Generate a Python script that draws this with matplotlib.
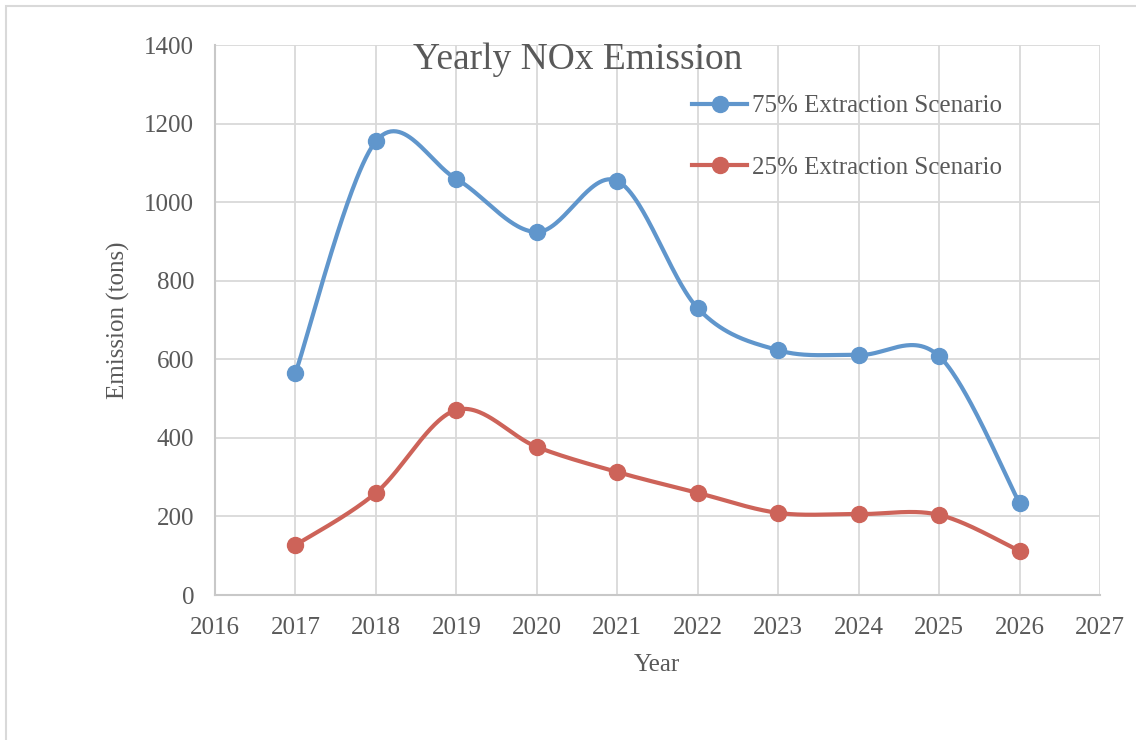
import numpy as np
import matplotlib
matplotlib.use("Agg")
import matplotlib.pyplot as plt
from matplotlib.lines import Line2D
from matplotlib.patches import Rectangle

years = [2017, 2018, 2019, 2020, 2021, 2022, 2023, 2024, 2025, 2026]
scenario_75 = [565, 1155, 1059, 924, 1054, 730, 623, 611, 608, 234]
scenario_25 = [127, 260, 471, 377, 313, 260, 209, 206, 204, 112]
labels = ["75% Extraction Scenario", "25% Extraction Scenario"]
title = "Yearly NOx Emission"
xlabel = "Year"
ylabel = "Emission (tons)"

plt.rcParams['font.family'] = ['Liberation Serif', 'DejaVu Serif']

BLUE = "#6096CC"
RED = "#CD6359"
TXT = "#595959"
GRID = "#D9D9D9"


def smooth(x, y, n=60):
    x = np.asarray(x, float)
    y = np.asarray(y, float)
    P = np.column_stack([x, y])
    Pe = np.vstack([P[0], P, P[-1]])
    out = []
    t = np.linspace(0, 1, n)[:, None]
    for i in range(len(P) - 1):
        p0, p1, p2, p3 = Pe[i], Pe[i + 1], Pe[i + 2], Pe[i + 3]
        c1 = p1 + (p2 - p0) / 6.0
        c2 = p2 - (p3 - p1) / 6.0
        seg = ((1 - t) ** 3) * p1 + 3 * ((1 - t) ** 2) * t * c1 + 3 * (1 - t) * t ** 2 * c2 + t ** 3 * p2
        out.append(seg if i == 0 else seg[1:])
    s = np.vstack(out)
    return s[:, 0], s[:, 1]


fig = plt.figure(figsize=(11.36, 7.40), dpi=100)
ax = fig.add_axes([215 / 1136, 1 - 595 / 740, (1100 - 215) / 1136, (595 - 45) / 740])

for vals, col in [(scenario_75, BLUE), (scenario_25, RED)]:
    sx, sy = smooth(years, vals)
    ax.plot(sx, sy, color=col, lw=3.0, solid_capstyle='round', zorder=3)
    ax.plot(years, vals, 'o', color=col, ms=11.5, zorder=4)

ax.set_xlim(2016, 2027)
ax.set_ylim(0, 1400)
ax.set_xticks(range(2016, 2028))
ax.set_yticks(range(0, 1401, 200))
ax.grid(True, color=GRID, lw=1.3, zorder=0)
ax.set_axisbelow(True)
for s in ['top', 'right']:
    ax.spines[s].set_visible(False)
for s in ['left', 'bottom']:
    ax.spines[s].set_color("#C8C8C8")
    ax.spines[s].set_linewidth(1.5)
ax.tick_params(length=0, labelsize=18, colors=TXT)
ax.tick_params(axis='x', pad=16)
ax.tick_params(axis='y', pad=15)

fig.text(657 / 1136, 1 - 665 / 740, xlabel, ha='center', va='center', fontsize=18, color=TXT)
fig.text(118 / 1136, 1 - 320 / 740, ylabel, ha='center', va='center', fontsize=18, color=TXT, rotation=90)
fig.text(578 / 1136, 1 - 60 / 740, title, ha='center', va='center', fontsize=27, color=TXT)

handles = [Line2D([], [], color=BLUE, lw=3.0, marker='o', ms=11.5),
           Line2D([], [], color=RED, lw=3.0, marker='o', ms=11.5)]
leg = fig.legend(handles, labels, loc='upper left', bbox_to_anchor=(692 / 1136, 1 - 95 / 740),
                 frameon=False, fontsize=18, handlelength=2.2, handletextpad=0.2,
                 labelspacing=1.55, borderpad=0, borderaxespad=0)
for t in leg.get_texts():
    t.set_color(TXT)

fig.patches.append(Rectangle((6 / 1136, -0.1), 2.0, 1 - 6 / 740 + 0.1, transform=fig.transFigure,
                             fill=False, edgecolor="#D9D9D9", lw=1.5))

fig.savefig("out.png", dpi=100)
